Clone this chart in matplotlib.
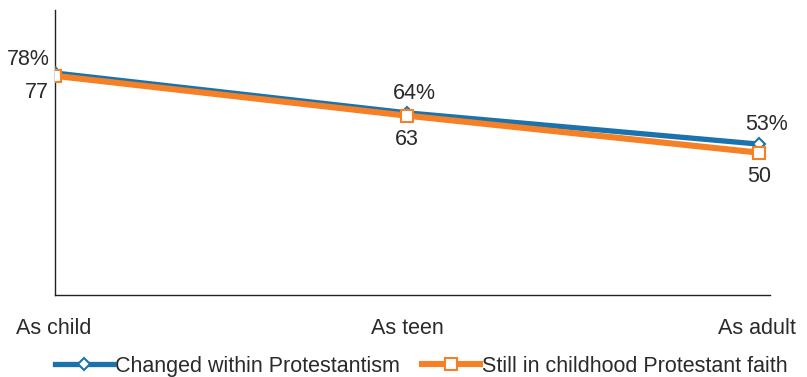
import matplotlib.pyplot as plt

plt.rcParams['font.family'] = ['Liberation Sans', 'DejaVu Sans']

stages = ["As child", "As teen", "As adult"]
changed = [78, 64, 53]
still = [77, 63, 50]
blue = '#1a73ad'
orange = '#f58025'

fig = plt.figure(figsize=(8.07, 3.77), dpi=100)
ax = fig.add_axes([0.068, 0.2175, 0.886, 0.755])
x = list(range(len(stages)))

ax.plot(x, changed, color=blue, lw=3.8, marker='D', ms=6.5, mfc='white',
        mec=blue, mew=1.5, label="Changed within Protestantism", zorder=3)
ax.plot(x, still, color=orange, lw=4.4, marker='s', ms=8, mfc='white',
        mec=orange, mew=1.5, label="Still in childhood Protestant faith", zorder=4)

ax.set_xlim(0, 2.03)
ax.set_ylim(0, 100)
ax.set_yticks([])
ax.set_xticks([])
for s in ['top', 'right']:
    ax.spines[s].set_visible(False)
for s in ['left', 'bottom']:
    ax.spines[s].set_color('#222222')
    ax.spines[s].set_linewidth(1.0)

fs = 15.5
txt = '#2a2a2a'
# data labels
for i, (a, b) in enumerate(zip(changed, still)):
    top = f"{a}%"
    if i == 0:
        ax.annotate(top, (i, a), xytext=(-4, 10), textcoords='offset points',
                    ha='right', va='center', fontsize=fs, color=txt)
        ax.annotate(str(b), (i, b), xytext=(-4, -12), textcoords='offset points',
                    ha='right', va='center', fontsize=fs, color=txt)
    else:
        ax.annotate(top, (i, a), xytext=(5, 14), textcoords='offset points',
                    ha='center', va='center', fontsize=fs, color=txt)
        ax.annotate(str(b), (i, b), xytext=(0, -17), textcoords='offset points',
                    ha='center', va='center', fontsize=fs, color=txt)

# category labels below axis
for i, lab in enumerate(stages):
    ha = 'left' if i == 0 else ('right' if i == len(stages) - 1 else 'center')
    xpos = -0.11 if i == 0 else (2.105 if i == len(stages) - 1 else i)
    ax.annotate(lab, (xpos, 0), xytext=(0, -24), textcoords='offset points',
                ha=ha, va='center', fontsize=fs, color=txt,
                annotation_clip=False)

fig.legend(loc='center', bbox_to_anchor=(0.522, 0.028), ncol=2, frameon=False,
           fontsize=fs, handlelength=2.7, handletextpad=0.1, columnspacing=1.0,
           borderaxespad=0, labelcolor=txt)

fig.savefig('out.png', dpi=100)
